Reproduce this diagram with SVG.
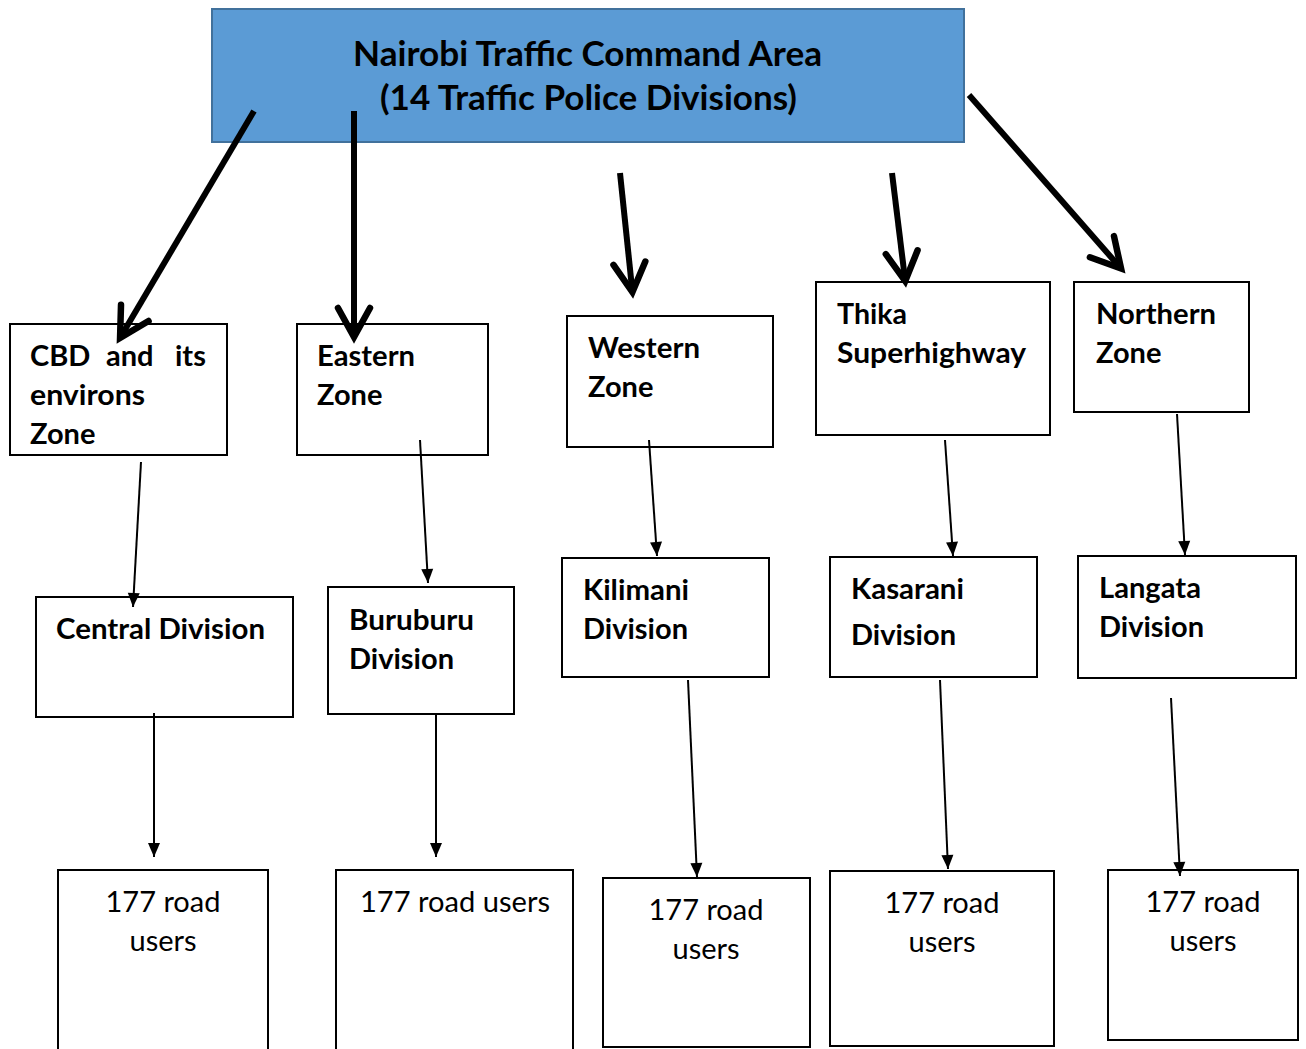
<svg xmlns="http://www.w3.org/2000/svg" width="1306" height="1049" viewBox="0 0 1306 1049">
<style>
  .box { fill: #ffffff; stroke: #000000; stroke-width: 2; }
  .head { fill: #5B9BD5; stroke: #41719C; stroke-width: 2; }
  .title { font-family: Lato, "Open Sans", "Liberation Sans", sans-serif; font-weight: bold; font-size: 34px; fill: #000; }
  .lbl { font-family: Lato, "Open Sans", "Liberation Sans", sans-serif; font-weight: bold; font-size: 29px; fill: #000; }
  .num { font-family: Lato, "Open Sans", "Liberation Sans", sans-serif; font-size: 29px; fill: #000; text-anchor: middle; }
  .thick { stroke: #000; stroke-width: 6; fill: none; marker-end: url(#bigArrow); }
  .thin { stroke: #000; stroke-width: 2; fill: none; marker-end: url(#smallArrow); }
</style>
<defs>
  <marker id="bigArrow" markerUnits="userSpaceOnUse" markerWidth="60" markerHeight="60" viewBox="-40 -30 60 60" refX="-6" refY="0" orient="auto" overflow="visible">
    <path d="M-29,-16 L0,0 L-29,16" fill="none" stroke="#000" stroke-width="6.5" stroke-linecap="round" stroke-linejoin="miter"/>
  </marker>
  <marker id="smallArrow" markerUnits="userSpaceOnUse" markerWidth="20" markerHeight="20" viewBox="-16 -10 20 20" refX="0" refY="0" orient="auto" overflow="visible">
    <path d="M0,0 L-14,-6 L-14,6 Z" fill="#000"/>
  </marker>
</defs>

<g id="node-nairobi">
  <rect class="head" x="212" y="9" width="752" height="133"/>
  <text class="title" x="353" y="66" textLength="469" lengthAdjust="spacingAndGlyphs">Nairobi Traffic Command Area</text>
  <text class="title" x="380" y="110" textLength="417" lengthAdjust="spacingAndGlyphs">(14 Traffic Police Divisions)</text>
</g>

<g id="node-cbd">
  <rect class="box" x="10" y="324" width="217" height="131"/>
  <text class="lbl" y="366"><tspan x="30">CBD</tspan><tspan x="106">and</tspan><tspan x="175">its</tspan></text>
  <text class="lbl" x="30" y="405" textLength="115" lengthAdjust="spacingAndGlyphs">environs</text>
  <text class="lbl" x="30" y="444">Zone</text>
</g>
<g id="node-eastern">
  <rect class="box" x="297" y="324" width="191" height="131"/>
  <text class="lbl" x="317" y="366" textLength="98" lengthAdjust="spacingAndGlyphs">Eastern</text>
  <text class="lbl" x="317" y="405">Zone</text>
</g>
<g id="node-western">
  <rect class="box" x="567" y="316" width="206" height="131"/>
  <text class="lbl" x="588" y="358" textLength="112" lengthAdjust="spacingAndGlyphs">Western</text>
  <text class="lbl" x="588" y="397">Zone</text>
</g>
<g id="node-thika">
  <rect class="box" x="816" y="282" width="234" height="153"/>
  <text class="lbl" x="837" y="324" textLength="70" lengthAdjust="spacingAndGlyphs">Thika</text>
  <text class="lbl" x="837" y="363" textLength="189" lengthAdjust="spacingAndGlyphs">Superhighway</text>
</g>
<g id="node-northern">
  <rect class="box" x="1074" y="282" width="175" height="130"/>
  <text class="lbl" x="1096" y="324" textLength="120" lengthAdjust="spacingAndGlyphs">Northern</text>
  <text class="lbl" x="1096" y="363">Zone</text>
</g>

<g id="node-central">
  <rect class="box" x="36" y="597" width="257" height="120"/>
  <text class="lbl" x="56" y="639" textLength="209" lengthAdjust="spacingAndGlyphs">Central Division</text>
</g>
<g id="node-buruburu">
  <rect class="box" x="328" y="587" width="186" height="127"/>
  <text class="lbl" x="349" y="630" textLength="125" lengthAdjust="spacingAndGlyphs">Buruburu</text>
  <text class="lbl" x="349" y="669" textLength="105" lengthAdjust="spacingAndGlyphs">Division</text>
</g>
<g id="node-kilimani">
  <rect class="box" x="562" y="558" width="207" height="119"/>
  <text class="lbl" x="583" y="600" textLength="106" lengthAdjust="spacingAndGlyphs">Kilimani</text>
  <text class="lbl" x="583" y="639" textLength="105" lengthAdjust="spacingAndGlyphs">Division</text>
</g>
<g id="node-kasarani">
  <rect class="box" x="830" y="557" width="207" height="120"/>
  <text class="lbl" x="851" y="599" textLength="113" lengthAdjust="spacingAndGlyphs">Kasarani</text>
  <text class="lbl" x="851" y="645" textLength="105" lengthAdjust="spacingAndGlyphs">Division</text>
</g>
<g id="node-langata">
  <rect class="box" x="1078" y="556" width="218" height="122"/>
  <text class="lbl" x="1099" y="598" textLength="102" lengthAdjust="spacingAndGlyphs">Langata</text>
  <text class="lbl" x="1099" y="637" textLength="105" lengthAdjust="spacingAndGlyphs">Division</text>
</g>

<g id="node-users-1">
  <rect class="box" x="58" y="870" width="210" height="200"/>
  <text class="num" x="163" y="912">177 road</text>
  <text class="num" x="163" y="951">users</text>
</g>
<g id="node-users-2">
  <rect class="box" x="336" y="870" width="237" height="200"/>
  <text class="num" x="455" y="912" textLength="190" lengthAdjust="spacingAndGlyphs">177 road users</text>
</g>
<g id="node-users-3">
  <rect class="box" x="603" y="878" width="207" height="169"/>
  <text class="num" x="706" y="920">177 road</text>
  <text class="num" x="706" y="959">users</text>
</g>
<g id="node-users-4">
  <rect class="box" x="830" y="871" width="224" height="175"/>
  <text class="num" x="942" y="913">177 road</text>
  <text class="num" x="942" y="952">users</text>
</g>
<g id="node-users-5">
  <rect class="box" x="1108" y="870" width="190" height="170"/>
  <text class="num" x="1203" y="912">177 road</text>
  <text class="num" x="1203" y="951">users</text>
</g>

<g id="connectors">
  <line class="thick" x1="254" y1="111" x2="123.1" y2="332.7"/>
  <line class="thick" x1="354" y1="111" x2="354" y2="331"/>
  <line class="thick" x1="620" y1="173" x2="631.8" y2="286.1"/>
  <line class="thick" x1="892" y1="173" x2="904.5" y2="275.1"/>
  <line class="thick" x1="969" y1="95" x2="1117.1" y2="264"/>

  <line class="thin" x1="141" y1="462" x2="133" y2="607"/>
  <line class="thin" x1="420" y1="440" x2="428" y2="583"/>
  <line class="thin" x1="649" y1="440" x2="657" y2="556"/>
  <line class="thin" x1="945" y1="440" x2="953" y2="556"/>
  <line class="thin" x1="1177" y1="414" x2="1185" y2="555"/>

  <line class="thin" x1="154" y1="713" x2="154" y2="857"/>
  <line class="thin" x1="436" y1="714" x2="436" y2="857"/>
  <line class="thin" x1="688" y1="680" x2="697" y2="877"/>
  <line class="thin" x1="940" y1="680" x2="948" y2="869"/>
  <line class="thin" x1="1171" y1="698" x2="1180" y2="876"/>
</g>
</svg>
